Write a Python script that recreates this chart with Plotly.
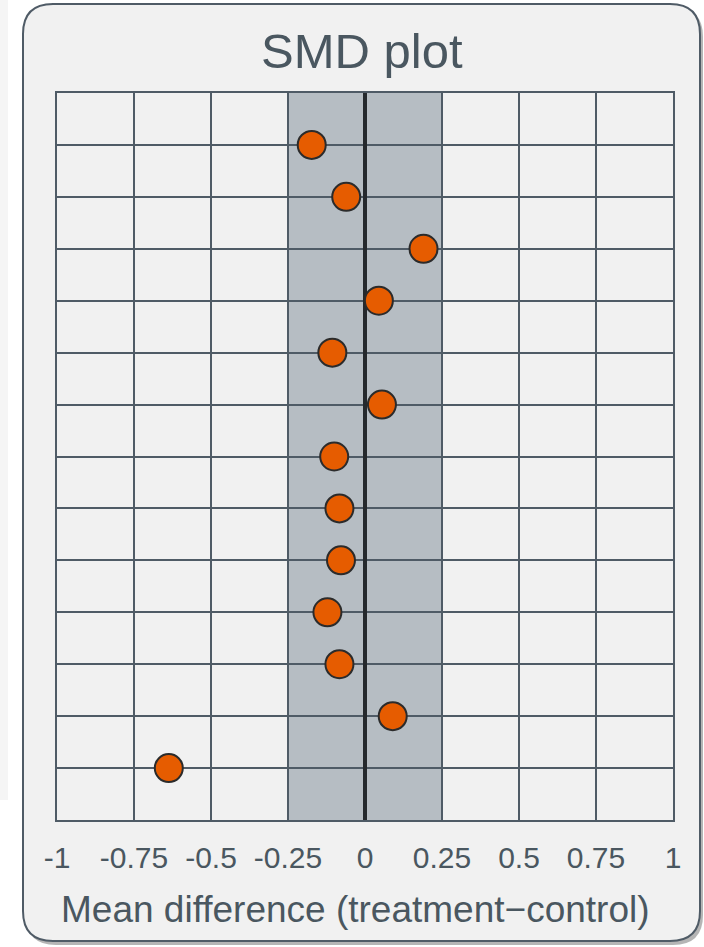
import plotly.graph_objects as go

# Standardised mean differences, one per covariate row (top to bottom)
row_index = [1, 2, 3, 4, 5, 6, 7, 8, 9, 10, 11, 12, 13]
smd_values = [-0.173, -0.061, 0.190, 0.045, -0.106, 0.055, -0.100,
              -0.083, -0.078, -0.122, -0.083, 0.090, -0.637]

x_tick_values = [-1, -0.75, -0.5, -0.25, 0, 0.25, 0.5, 0.75, 1]
x_tick_labels = ["-1", "-0.75", "-0.5", "-0.25", "0", "0.25", "0.5", "0.75", "1"]
balance_threshold = 0.25
row_span = [0, 14]

W, H = 704, 947
ML, MR, MT, MB = 57, 31, 93, 127
PW, PH = W - ML - MR, H - MT - MB

TEXT = "#4a5760"
GRID = "#4f5b66"
FONT = "Arial, Liberation Sans, sans-serif"


def px(x):
    return (x - ML) / PW


def py(y):
    return (H - MB - y) / PH


def rounded_rect(x0, y0, x1, y1, r):
    rx, ry = r / PW, r / PH
    a, b, c, d = px(x0), px(x1), py(y0), py(y1)  # c = top, d = bottom
    return (f"M {a + rx},{c} L {b - rx},{c} Q {b},{c} {b},{c - ry} "
            f"L {b},{d + ry} Q {b},{d} {b - rx},{d} "
            f"L {a + rx},{d} Q {a},{d} {a},{d + ry} "
            f"L {a},{c - ry} Q {a},{c} {a + rx},{c} Z")


shapes = [
    # faint edge of neighbouring panel
    dict(type="rect", xref="paper", yref="paper", x0=px(0), x1=px(8),
         y0=py(0), y1=py(800), fillcolor="#f5f5f5", line=dict(width=0),
         layer="below"),
    # panel drop shadow
    dict(type="path", xref="paper", yref="paper",
         path=rounded_rect(26, 7, 703, 945, 30),
         fillcolor="rgba(90,90,90,0.45)", line=dict(width=0), layer="below"),
    # panel
    dict(type="path", xref="paper", yref="paper",
         path=rounded_rect(23, 4, 700, 941, 30),
         fillcolor="#f1f1f1", line=dict(color=GRID, width=2), layer="below"),
    # acceptable balance band
    dict(type="rect", xref="x", yref="paper", x0=-balance_threshold,
         x1=balance_threshold, y0=0, y1=1, fillcolor="#b6bdc3",
         line=dict(width=0), layer="below"),
]

fig = go.Figure()
# zero reference line, drawn beneath the markers
fig.add_trace(go.Scatter(
    x=[0, 0], y=row_span, mode="lines",
    line=dict(color="#25292d", width=4),
    hoverinfo="skip", showlegend=False,
))
fig.add_trace(go.Scatter(
    x=smd_values, y=row_index, mode="markers",
    marker=dict(size=28, color="#e65c00",
                line=dict(color="#2b2b2b", width=2)),
    hoverinfo="x", showlegend=False,
))

annotations = [
    dict(text="SMD plot", xref="paper", yref="paper", x=px(362), y=py(51),
         xanchor="center", yanchor="middle", showarrow=False,
         font=dict(family=FONT, size=49, color=TEXT)),
    dict(text="Mean difference (treatment\u2212control)", xref="paper",
         yref="paper", x=px(355), y=py(909), xanchor="center",
         yanchor="middle", showarrow=False,
         font=dict(family=FONT, size=37, color=TEXT)),
]

fig.update_layout(
    width=W, height=H,
    margin=dict(l=ML, r=MR, t=MT, b=MB),
    paper_bgcolor="white",
    plot_bgcolor="rgba(0,0,0,0)",
    shapes=shapes,
    annotations=annotations,
    xaxis=dict(range=[-1, 1], tickvals=x_tick_values, ticktext=x_tick_labels,
               showgrid=True, gridcolor=GRID, gridwidth=2, zeroline=False,
               showline=True, linecolor=GRID, linewidth=2, mirror=True,
               ticks="outside", ticklen=10, tickcolor="rgba(0,0,0,0)",
               tickfont=dict(family=FONT, size=30, color=TEXT),
               fixedrange=True),
    yaxis=dict(range=[14, 0], dtick=1, tick0=0, showticklabels=False,
               showgrid=True, gridcolor=GRID, gridwidth=2, zeroline=False,
               showline=True, linecolor=GRID, linewidth=2, mirror=True,
               fixedrange=True),
)

fig.write_html("out.html")
